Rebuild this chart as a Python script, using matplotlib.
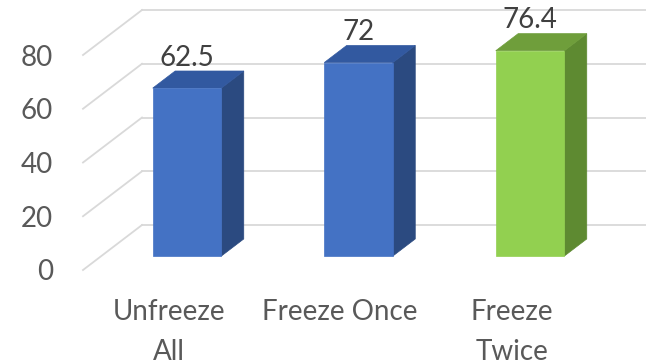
import matplotlib.pyplot as plt
from matplotlib.patches import Polygon

categories = ['Unfreeze\nAll', 'Freeze Once', 'Freeze\nTwice']
accuracy = [62.5, 72, 76.4]
value_labels = ['62.5', '72', '76.4']
y_ticks = [0, 20, 40, 60, 80]

# front / side / top shades for each bar
blue = ('#4472C4', '#2B4A80', '#3259A0')
green = ('#92D050', '#5E8A31', '#6F9E3B')
bar_colors = [blue, blue, green]

# fake 3D: how far the back wall is shifted (category units, value units)
DX, DY = 0.344, 16.74
BAR_W = 0.40
D0, D1 = 0.31, 0.69  # bar depth inside the floor

plt.rcParams['font.family'] = ['Lato', 'DejaVu Sans']
text_gray = '#595959'
grid_gray = '#D9D9D9'

fig = plt.figure(figsize=(6.46, 3.63), dpi=100)
ax = fig.add_axes([83 / 646, 93 / 363, 563 / 646, 270 / 363])
ax.set_xlim(-0.5, -0.5 + 563 / 171.5)
ax.set_ylim(0, 100.47)
for s in ax.spines.values():
    s.set_visible(False)

# back wall gridlines and the diagonal side lines
x_left = -0.5
for t in y_ticks:
    ax.plot([x_left, x_left + DX], [t, t + DY], color=grid_gray, lw=1.3,
            zorder=1, clip_on=False)
    ax.plot([x_left + DX, ax.get_xlim()[1]], [t + DY, t + DY],
            color=grid_gray, lw=1.3, zorder=1, clip_on=False)


def box(x, v, colors):
    front, side, top = colors
    fx = x + D0 * DX
    fy = D0 * DY
    bx = x + D1 * DX
    by = D1 * DY
    l, r = fx - BAR_W / 2, fx + BAR_W / 2
    face = [(l, fy), (r, fy), (r, fy + v), (l, fy + v)]
    right = [(r, fy), (r + (bx - fx), by), (r + (bx - fx), by + v), (r, fy + v)]
    lid = [(l, fy + v), (r, fy + v), (r + (bx - fx), by + v), (l + (bx - fx), by + v)]
    for pts, c in ((right, side), (lid, top), (face, front)):
        ax.add_patch(Polygon(pts, closed=True, facecolor=c, edgecolor=c,
                             lw=0.5, zorder=3))
    return fx, by + v


for i, (v, lab, c) in enumerate(zip(accuracy, value_labels, bar_colors)):
    cx, top_y = box(i, v, c)
    ax.annotate(lab, xy=(cx, top_y), xytext=(0, 9.5), textcoords='offset points',
                ha='center', va='center', fontsize=20, color='#404040', zorder=4)

ax.set_yticks(y_ticks)
ax.set_yticklabels([str(t) for t in y_ticks])
ax.set_xticks(range(len(categories)))
ax.set_xticklabels(categories, linespacing=1.65)
ax.tick_params(axis='y', length=0, pad=21.5, labelsize=20, labelcolor=text_gray)
ax.tick_params(axis='x', length=0, pad=21, labelsize=20, labelcolor=text_gray)

fig.savefig('out.png', dpi=100)
